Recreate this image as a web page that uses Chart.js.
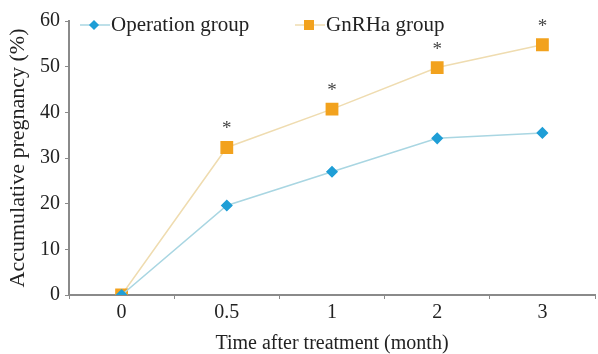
<!DOCTYPE html>
<html lang="en">
<head>
    <meta charset="UTF-8">
    <title>Accumulative pregnancy</title>
    <script src="https://cdn.jsdelivr.net/npm/chart.js"></script>
    <style>
        html, body { margin: 0; padding: 0; background: #fff; }
        #wrap { width: 598px; height: 354px; }
    </style>
</head>
<body>
    <div id="wrap"><canvas id="chart" width="598" height="354"></canvas></div>
    <script>
        const months = ['0', '0.5', '1', '2', '3'];
        const operationGroup = [0, 19.6, 27, 34.3, 35.5];
        const gnrhaGroup = [0, 32.3, 40.7, 49.8, 54.8];
        const significant = [false, true, true, true, true];

        const FONT = "'Liberation Serif', 'Times New Roman', serif";
        const opLine = '#a9d6e2', opMark = '#1f9ed6';
        const gnLine = '#efdcb0', gnMark = '#f2a21e';
        const axisColor = '#8a8a8a';

        // asterisks above the GnRHa points
        const starPlugin = {
            id: 'stars',
            afterDatasetsDraw(chart) {
                const meta = chart.getDatasetMeta(1);
                const ctx = chart.ctx;
                ctx.save();
                ctx.fillStyle = '#444';
                ctx.font = '19px ' + FONT;
                ctx.textAlign = 'center';
                ctx.textBaseline = 'middle';
                meta.data.forEach((pt, i) => {
                    if (significant[i]) ctx.fillText('*', pt.x, pt.y - 18);
                });
                ctx.restore();
            }
        };

        // legend: line with marker, then label
        const legendPlugin = {
            id: 'lineLegend',
            afterDraw(chart) {
                const ctx = chart.ctx;
                const items = [
                    { text: 'Operation group', x: 80, line: opLine, mark: opMark, style: 'rectRot', r: 4 },
                    { text: 'GnRHa group', x: 295, line: gnLine, mark: gnMark, style: 'rect', r: 6 }
                ];
                const y = 25;
                ctx.save();
                items.forEach(it => {
                    ctx.strokeStyle = it.line;
                    ctx.lineWidth = 1.5;
                    ctx.beginPath();
                    ctx.moveTo(it.x, y);
                    ctx.lineTo(it.x + 30, y);
                    ctx.stroke();
                    ctx.fillStyle = it.mark;
                    ctx.strokeStyle = it.mark;
                    Chart.helpers.drawPoint(ctx, { pointStyle: it.style, radius: it.r, borderWidth: 1 }, it.x + 14, y);
                    ctx.fillStyle = '#222';
                    ctx.font = '21px ' + FONT;
                    ctx.textAlign = 'left';
                    ctx.textBaseline = 'middle';
                    ctx.fillText(it.text, it.x + 31, y);
                });
                ctx.restore();
            }
        };

        new Chart(document.getElementById('chart').getContext('2d'), {
            type: 'line',
            data: {
                labels: months,
                datasets: [{
                    label: 'Operation group',
                    data: operationGroup,
                    borderColor: opLine,
                    borderWidth: 1.5,
                    pointStyle: 'rectRot',
                    pointRadius: 5,
                    pointBackgroundColor: opMark,
                    pointBorderColor: opMark,
                    tension: 0
                }, {
                    label: 'GnRHa group',
                    data: gnrhaGroup,
                    borderColor: gnLine,
                    borderWidth: 1.5,
                    pointStyle: 'rect',
                    pointRadius: 8,
                    pointBackgroundColor: gnMark,
                    pointBorderColor: gnMark,
                    tension: 0
                }]
            },
            options: {
                responsive: false,
                animation: false,
                layout: { autoPadding: false, padding: { top: 21, right: 3, left: 0, bottom: 0 } },
                plugins: {
                    legend: { display: false },
                    tooltip: { enabled: false }
                },
                scales: {
                    x: {
                        offset: true,
                        afterFit(scale) {
                            scale.height = 59;
                            scale.paddingLeft = 0;
                            scale.paddingRight = 0;
                        },
                        border: { color: axisColor, width: 2 },
                        grid: { display: true, drawOnChartArea: false, offset: true, tickLength: 4, color: axisColor },
                        ticks: { color: '#222', padding: 2, font: { family: FONT, size: 20 } },
                        title: {
                            display: true,
                            text: 'Time after treatment (month)',
                            color: '#222',
                            padding: 0,
                            font: { family: FONT, size: 20, lineHeight: 1 }
                        }
                    },
                    y: {
                        min: 0,
                        max: 60,
                        afterFit(scale) { scale.width = 69; },
                        border: { color: axisColor, width: 2 },
                        grid: { display: true, drawOnChartArea: false, tickLength: 4, color: axisColor },
                        ticks: { stepSize: 10, color: '#222', padding: 5, font: { family: FONT, size: 20 } },
                        title: {
                            display: true,
                            text: 'Accumulative pregnancy (%)',
                            color: '#222',
                            padding: { top: 7, bottom: 0 },
                            font: { family: FONT, size: 22, lineHeight: 1 }
                        }
                    }
                }
            },
            plugins: [starPlugin, legendPlugin]
        });
    </script>
</body>
</html>
